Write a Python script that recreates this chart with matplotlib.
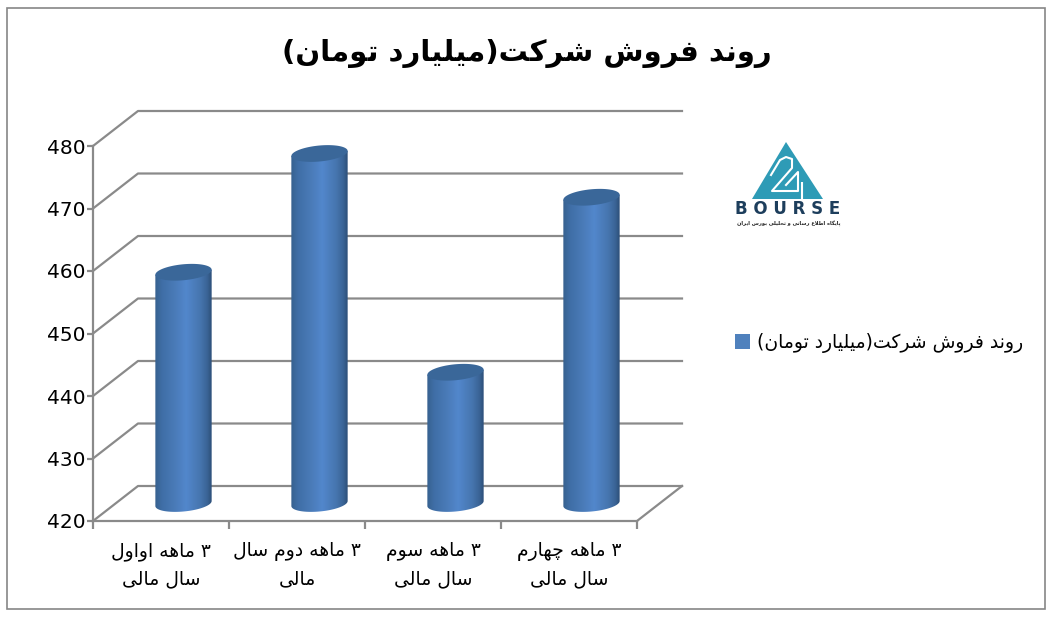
import unicodedata
import numpy as np
import matplotlib
matplotlib.use("Agg")
import matplotlib.pyplot as plt
from matplotlib.colors import LinearSegmentedColormap
from matplotlib.patches import Patch, Polygon, Rectangle

# matplotlib has no Arabic shaping, so pick presentation forms and lay out right to left
NO_LEFT_JOIN = "اآأدذرزژو"
MIRROR = {"(": ")", ")": "("}


def is_letter(c):
    return "\u0621" <= c <= "\u06d3" and not "\u0660" <= c <= "\u0669"


def fa(text):
    lines = []
    for line in text.split("\n"):
        out = []
        for i, c in enumerate(line):
            if not is_letter(c):
                out.append(MIRROR.get(c, c))
                continue
            before = i > 0 and is_letter(line[i - 1]) and line[i - 1] not in NO_LEFT_JOIN
            after = i < len(line) - 1 and is_letter(line[i + 1]) and c not in NO_LEFT_JOIN
            form = {(1, 1): "MEDIAL", (1, 0): "FINAL", (0, 1): "INITIAL", (0, 0): "ISOLATED"}[(int(before), int(after))]
            out.append(unicodedata.lookup(unicodedata.name(c) + " " + form + " FORM"))
        s = "".join(out).replace("\ufedf\ufe8e", "\ufefb").replace("\ufee0\ufe8e", "\ufefc")
        lines.append(s[::-1])
    return "\n".join(lines)


# data
categories = ["۳ ماهه اواول\nسال مالی", "۳ ماهه دوم سال\nمالی", "۳ ماهه سوم\nسال مالی", "۳ ماهه چهارم\nسال مالی"]
sales = [457, 476, 441, 469]
y_ticks = [420, 430, 440, 450, 460, 470, 480]
title = "روند فروش شرکت(میلیارد تومان)"
series_name = "روند فروش شرکت(میلیارد تومان)"

W, H = 1055, 617
GRID = "#8A8A8A"
BLUE = "#4F81BD"

# 3d look, in data units of the front plane
depth_x = 45 / 136
depth_y = 35 / 6.25
half_w = 0.207
ry = 8 / 6.25
tilt = 2.5 / 6.25

fig = plt.figure(figsize=(W / 100, H / 100), dpi=100, facecolor="white")
fig.patches.append(Rectangle((7 / W, 1 - 609 / H), 1038 / W, 601 / H, transform=fig.transFigure,
                             fill=False, edgecolor="#868686", linewidth=1.2))

ax = fig.add_axes([93 / W, 1 - 521 / H, 544 / W, 375 / H])
ax.patch.set_alpha(0)

# back wall lines, side lines and floor
for v in y_ticks:
    ax.plot([0, depth_x, 4 + depth_x], [v, v + depth_y, v + depth_y], color=GRID, lw=1.6, clip_on=False, zorder=1)
ax.plot([4, 4 + depth_x], [420, 420 + depth_y], color=GRID, lw=1.6, clip_on=False, zorder=1)

# cylinders
cmap = LinearSegmentedColormap.from_list("cyl", [(0, "#37618F"), (0.12, "#3F6EA6"), (0.35, "#4A7BB8"), (0.55, "#5287CC"),
                                                 (0.8, "#4675AE"), (0.92, "#3A6496"), (1, "#2D4F78")])
gradient = np.linspace(0, 1, 200).reshape(1, -1)
t = np.linspace(0, 2 * np.pi, 100)
for i, v in enumerate(sales):
    cx = i + 0.5 + depth_x / 2
    base = 420 + depth_y / 2
    ex = cx + half_w * np.cos(t)
    lower = t[50:]
    body = np.vstack([
        np.column_stack([cx + half_w * np.cos(lower), base + ry * np.sin(lower) + tilt * np.cos(lower)]),
        [[cx + half_w, v + depth_y / 2 + tilt], [cx - half_w, v + depth_y / 2 - tilt]],
    ])
    img = ax.imshow(gradient, cmap=cmap, aspect="auto", zorder=3, interpolation="bilinear",
                    extent=[cx - half_w, cx + half_w, 415, v + depth_y / 2 + 3])
    img.set_clip_path(Polygon(body, closed=True, transform=ax.transData))
    ey = v + depth_y / 2 + ry * np.sin(t) + tilt * np.cos(t)
    ax.add_patch(Polygon(np.column_stack([ex, ey]), closed=True, facecolor="#3A6799", edgecolor="none",
                         zorder=4, clip_on=False))

ax.set_xlim(0, 4)
ax.set_ylim(420, 480)
for side in ["top", "right"]:
    ax.spines[side].set_visible(False)
for side in ["left", "bottom"]:
    ax.spines[side].set_color(GRID)
    ax.spines[side].set_linewidth(1.6)

ax.set_yticks(y_ticks)
ax.set_xticks(range(5))
ax.set_xticklabels([])
ax.set_xticks(np.arange(4) + 0.5, [fa(c) for c in categories], minor=True)
ax.tick_params(axis="x", which="major", length=6, width=1.6, color=GRID)
ax.tick_params(axis="x", which="minor", length=0, pad=15, labelsize=13.5)
ax.tick_params(axis="y", length=4.5, width=1.6, color=GRID, labelsize=14.5, pad=1)
for label in ax.get_xticklabels(minor=True):
    label.set_linespacing(1.58)

fig.text(527 / W, 1 - 53 / H, fa(title), ha="center", va="center", fontsize=21, fontweight="bold", color="black")

legend = fig.legend(handles=[Patch(facecolor=BLUE, label=fa(series_name))], loc="center left",
                    bbox_to_anchor=(718 / W, 1 - 343 / H), frameon=False, fontsize=13.5,
                    handlelength=0.8, handleheight=0.8, handletextpad=0.4, borderpad=0.4)

# logo
logo = fig.add_axes([730 / W, 1 - 240 / H, 120 / W, 105 / H])
logo.set_xlim(730, 850)
logo.set_ylim(240, 135)
logo.axis("off")
logo.add_patch(Polygon([(786, 142), (823, 199), (752, 199)], closed=True, facecolor="#2E9BB6", edgecolor="none"))
logo.plot([771, 780, 786, 792, 792, 772, 798, 798, 786], [175, 160, 157, 159, 168, 191, 191, 172, 185],
          color="white", lw=1.5, solid_joinstyle="round")
logo.plot([802, 802], [182, 199], color="white", lw=1.5, solid_capstyle="butt")
logo.text(788, 209.5, "B O U R S E", ha="center", va="center", fontsize=12, color="#1D3E5C", fontweight="bold")
logo.text(789, 224, fa("پایگاه اطلاع رسانی و تحلیلی بورس ایران"), ha="center", va="center", fontsize=3.7,
          fontweight="bold", color="#222222")

fig.savefig("out.png", dpi=100, facecolor="white")
